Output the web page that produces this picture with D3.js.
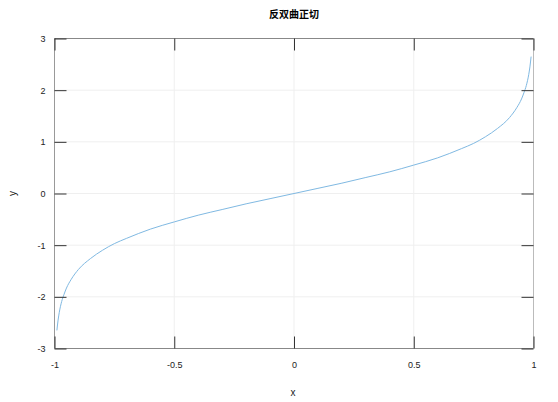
<!DOCTYPE html>
<html>
<head>
<meta charset="utf-8">
<script src="https://cdn.jsdelivr.net/npm/d3@7"></script>
<style>
  body { margin: 0; background: #fff; }
  text { font-family: "Liberation Sans", Arial, sans-serif; }
</style>
</head>
<body>
<div id="chart"></div>
<script>
// Werte
const xValues = [-0.99, -0.985, -0.98, -0.97, -0.96, -0.95, -0.93, -0.9, -0.85, -0.8, -0.75, -0.7, -0.6, -0.5, -0.4, -0.3, -0.2, -0.1, 0,
                 0.1, 0.2, 0.3, 0.4, 0.5, 0.6, 0.7, 0.75, 0.8, 0.85, 0.9, 0.93, 0.95, 0.96, 0.97, 0.98, 0.985, 0.99];
const yValues = [-2.65, -2.45, -2.30, -2.09, -1.95, -1.83, -1.66, -1.47, -1.26, -1.10, -0.97, -0.87, -0.69, -0.55, -0.42, -0.31, -0.20, -0.10, 0,
                 0.10, 0.20, 0.31, 0.42, 0.55, 0.69, 0.87, 0.97, 1.10, 1.26, 1.47, 1.66, 1.83, 1.95, 2.09, 2.30, 2.45, 2.65];
const xTicks = [-1, -0.5, 0, 0.5, 1];
const xTickLabels = ["-1", "-0.5", "0", "0.5", "1"];
const yTicks = [-3, -2, -1, 0, 1, 2, 3];
const yTickLabels = ["-3", "-2", "-1", "0", "1", "2", "3"];
const title = "反双曲正切";

function createLineChart(container) {
    const margin = { top: 38.5, right: 24.5, bottom: 53.5, left: 54.5 };
    const width = 558 - margin.left - margin.right;
    const height = 402 - margin.top - margin.bottom;
    const tick = 12;

    const data = xValues.map((x, i) => ({ x: x, y: yValues[i] }));

    const xScale = d3.scaleLinear().domain([-1, 1]).range([0, width]);
    const yScale = d3.scaleLinear().domain([-3, 3]).range([height, 0]);

    const root = d3.select(container)
        .append("svg")
        .attr("width", 558)
        .attr("height", 402);

    // Titel
    root.append("text")
        .attr("x", margin.left + width / 2)
        .attr("y", 18)
        .attr("text-anchor", "middle")
        .style("font-family", "'Noto Sans CJK SC', sans-serif")
        .style("font-size", "10px")
        .style("font-weight", "bold")
        .text(title);

    const svg = root.append("g")
        .attr("transform", `translate(${margin.left},${margin.top})`);

    // Gitterlinien
    svg.append("g")
        .selectAll("line")
        .data(xTicks.slice(1, -1))
        .enter().append("line")
        .attr("x1", d => xScale(d)).attr("x2", d => xScale(d))
        .attr("y1", 0).attr("y2", height)
        .attr("stroke", "#efefef");
    svg.append("g")
        .selectAll("line")
        .data(yTicks.slice(1, -1))
        .enter().append("line")
        .attr("x1", 0).attr("x2", width)
        .attr("y1", d => yScale(d)).attr("y2", d => yScale(d))
        .attr("stroke", "#efefef");

    // Kurve
    svg.append("path")
        .datum(data)
        .attr("fill", "none")
        .attr("stroke", "#80b9e2")
        .attr("stroke-width", 1)
        .attr("d", d3.line()
            .x(d => xScale(d.x))
            .y(d => yScale(d.y))
            .curve(d3.curveMonotoneX));

    // Rahmen
    svg.append("line").attr("x1", 0).attr("x2", width).attr("y1", 0).attr("y2", 0).attr("stroke", "#888");
    svg.append("line").attr("x1", 0).attr("x2", width).attr("y1", height).attr("y2", height).attr("stroke", "#888");
    svg.append("line").attr("x1", 0).attr("x2", 0).attr("y1", 0).attr("y2", height).attr("stroke", "#999");
    svg.append("line").attr("x1", width).attr("x2", width).attr("y1", 0).attr("y2", height).attr("stroke", "#bbb");

    // x-Achse unten und oben
    const xAxis = d3.axisBottom(xScale)
        .tickValues(xTicks)
        .tickFormat((d, i) => xTickLabels[i])
        .tickSizeInner(-tick)
        .tickSizeOuter(0)
        .tickPadding(13);
    const gx = svg.append("g")
        .attr("transform", `translate(0,${height})`)
        .call(xAxis);
    gx.select(".domain").remove();
    gx.selectAll("line").attr("stroke", "#333");
    gx.selectAll("text").style("font-size", "9px").attr("fill", "#222");

    const gxTop = svg.append("g")
        .call(d3.axisTop(xScale).tickValues(xTicks).tickSizeInner(-tick).tickSizeOuter(0).tickFormat(""));
    gxTop.select(".domain").remove();
    gxTop.selectAll("line").attr("stroke", "#333");

    // y-Achse links und rechts
    const gy = svg.append("g")
        .call(d3.axisLeft(yScale)
            .tickValues(yTicks)
            .tickFormat((d, i) => yTickLabels[i])
            .tickSizeInner(-tick)
            .tickSizeOuter(0)
            .tickPadding(9));
    gy.select(".domain").remove();
    gy.selectAll("line").attr("stroke", "#333");
    gy.selectAll("text").style("font-size", "9px").attr("fill", "#222");

    const gyRight = svg.append("g")
        .attr("transform", `translate(${width},0)`)
        .call(d3.axisRight(yScale).tickValues(yTicks).tickSizeInner(-tick).tickSizeOuter(0).tickFormat(""));
    gyRight.select(".domain").remove();
    gyRight.selectAll("line").attr("stroke", "#333");

    // Achsenbeschriftungen
    svg.append("text")
        .attr("x", width / 2 - 1)
        .attr("y", height + 47)
        .attr("text-anchor", "middle")
        .style("font-size", "10px")
        .attr("fill", "#222")
        .text("x");

    svg.append("text")
        .attr("x", -height / 2)
        .attr("y", -39)
        .attr("transform", "rotate(-90)")
        .attr("text-anchor", "middle")
        .style("font-size", "10px")
        .attr("fill", "#222")
        .text("y");
}

createLineChart("#chart");
</script>
</body>
</html>
